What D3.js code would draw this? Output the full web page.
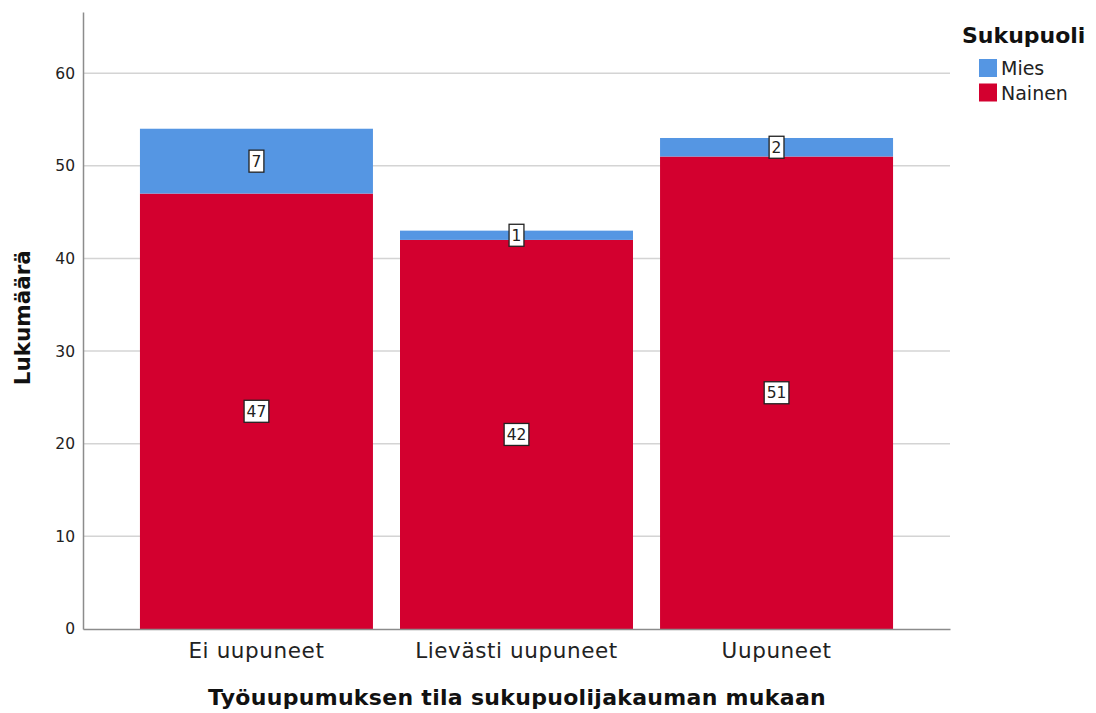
<!DOCTYPE html>
<html>
<head>
<meta charset="utf-8">
<script src="https://cdn.jsdelivr.net/npm/d3@7"></script>
<style>
  body { margin: 0; background: #fff; }
  text { font-family: "DejaVu Sans", sans-serif; }
</style>
</head>
<body>
<div id="chart"></div>
<script>
'use strict';

var categories = ['Ei uupuneet', 'Lievästi uupuneet', 'Uupuneet'];
var series = ['Nainen', 'Mies'];
var nainen = [47, 42, 51];
var mies = [7, 1, 2];
var yTicks = [0, 10, 20, 30, 40, 50, 60];
var legendOrder = ['Mies', 'Nainen'];

var app = {};
app.w = 1096;
app.h = 713;
app.m = {top: 12, left: 83, right: 146, bottom: 84};
app.colors = {Mies: '#5596e3', Nainen: '#d3002f'};

app.run = function() {
    var svg = d3.select('#chart').append('svg')
        .attr('width', app.w)
        .attr('height', app.h);

    var x = d3.scaleBand()
        .domain(categories)
        .range([app.m.left, app.w - app.m.right])
        .paddingInner(0.104)
        .paddingOuter(0.219);

    var y = d3.scaleLinear()
        .domain([0, 66.6])
        .range([app.h - app.m.bottom, app.m.top]);

    // gridlines
    svg.append('g').selectAll('line')
        .data(yTicks.filter(function(d) { return d > 0; }))
        .enter().append('line')
        .attr('x1', app.m.left).attr('x2', app.w - app.m.right)
        .attr('y1', function(d) { return y(d); })
        .attr('y2', function(d) { return y(d); })
        .attr('stroke', '#d4d4d4')
        .attr('stroke-width', 1.5);

    var rows = categories.map(function(c, i) {
        return {cat: c, Nainen: nainen[i], Mies: mies[i]};
    });
    var stacked = d3.stack().keys(series)(rows);

    svg.append('g').selectAll('g')
        .data(stacked)
        .enter().append('g')
        .attr('fill', function(d) { return app.colors[d.key]; })
        .selectAll('rect')
        .data(function(d) { return d; })
        .enter().append('rect')
        .attr('x', function(d) { return x(d.data.cat); })
        .attr('width', x.bandwidth())
        .attr('y', function(d) { return y(d[1]); })
        .attr('height', function(d) { return y(d[0]) - y(d[1]); });

    // axes
    var yAxis = svg.append('g')
        .attr('transform', 'translate(' + app.m.left + ',0)')
        .call(d3.axisLeft(y).tickValues(yTicks).tickSize(0).tickPadding(8));
    yAxis.select('.domain').attr('stroke', '#8c8c8c').attr('stroke-width', 1.5);
    yAxis.selectAll('text').attr('font-size', 15.5).attr('fill', '#222');

    var xAxis = svg.append('g')
        .attr('transform', 'translate(0,' + y(0) + ')')
        .call(d3.axisBottom(x).tickSize(0).tickPadding(14));
    xAxis.select('.domain').attr('stroke', '#8c8c8c').attr('stroke-width', 1.5);
    xAxis.selectAll('text')
        .attr('font-size', 21.5)
        .attr('letter-spacing', 0.6)
        .attr('fill', '#222');

    // value labels
    var labels = [];
    stacked.forEach(function(s) {
        s.forEach(function(d) {
            labels.push({cat: d.data.cat, v: d[1] - d[0], mid: (d[0] + d[1]) / 2});
        });
    });
    var lg = svg.append('g').selectAll('g')
        .data(labels)
        .enter().append('g')
        .attr('transform', function(d) {
            return 'translate(' + (x(d.cat) + x.bandwidth() / 2) + ',' + y(d.mid) + ')';
        });
    lg.append('text')
        .attr('text-anchor', 'middle')
        .attr('dy', '0.36em')
        .attr('font-size', 15.5)
        .attr('fill', '#222')
        .text(function(d) { return d.v; });
    lg.insert('rect', 'text')
        .each(function() {
            var bb = this.parentNode.querySelector('text').getBBox();
            d3.select(this)
                .attr('x', bb.x - 2.5).attr('y', -11)
                .attr('width', bb.width + 5).attr('height', 22);
        })
        .attr('fill', '#fff')
        .attr('stroke', '#222')
        .attr('stroke-width', 1.3);

    // axis titles
    svg.append('text')
        .attr('transform', 'translate(30,' + y(33.6) + ') rotate(-90)')
        .attr('text-anchor', 'middle')
        .attr('font-size', 21.5)
        .attr('font-weight', 'bold')
        .attr('fill', '#111')
        .text('Lukumäärä');

    svg.append('text')
        .attr('x', 517)
        .attr('y', 705)
        .attr('text-anchor', 'middle')
        .attr('font-size', 22)
        .attr('font-weight', 'bold')
        .attr('letter-spacing', 0.3)
        .attr('fill', '#111')
        .text('Työuupumuksen tila sukupuolijakauman mukaan');

    // legend
    var leg = svg.append('g').attr('transform', 'translate(962,0)');
    leg.append('text')
        .attr('x', 0).attr('y', 43)
        .attr('font-size', 22)
        .attr('font-weight', 'bold')
        .attr('fill', '#111')
        .text('Sukupuoli');
    var items = leg.selectAll('g.item')
        .data(legendOrder)
        .enter().append('g')
        .attr('class', 'item')
        .attr('transform', function(d, i) { return 'translate(17,' + (59 + i * 24.5) + ')'; });
    items.append('rect')
        .attr('width', 18).attr('height', 18)
        .attr('fill', function(d) { return app.colors[d]; });
    items.append('text')
        .attr('x', 22).attr('y', 16)
        .attr('font-size', 19)
        .attr('fill', '#222')
        .text(function(d) { return d; });
};

window.onload = app.run;
</script>
</body>
</html>
